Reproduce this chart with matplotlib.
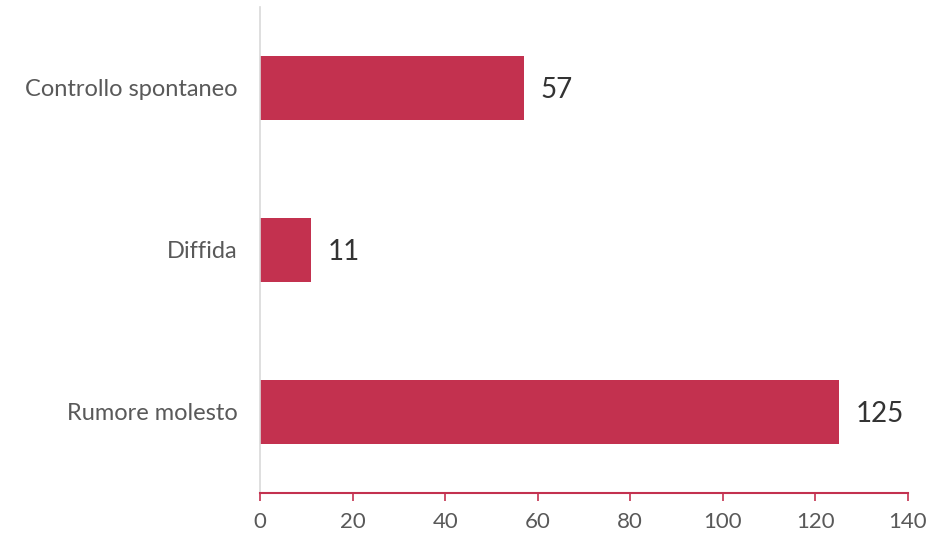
import matplotlib
matplotlib.use("Agg")
import matplotlib.pyplot as plt

categories = ["Rumore molesto", "Diffida", "Controllo spontaneo"]
values = [125, 11, 57]
xticks = [0, 20, 40, 60, 80, 100, 120, 140]

plt.rcParams['font.family'] = ['Lato', 'DejaVu Sans']

bar_color = "#C3314F"
fig = plt.figure(figsize=(9.3, 5.35), dpi=100)
ax = fig.add_axes([0.2796, 0.0785, 0.6967, 0.9085])

ypos = list(range(len(categories)))
ax.barh(ypos, values, height=0.4, color=bar_color)
for y, v in zip(ypos, values):
    ax.annotate(str(v), xy=(v, y), xytext=(12, 0), textcoords="offset points",
                va="center_baseline", ha="left", fontsize=20, color="#333333")

ax.set_ylim(-0.5, 2.5)
ax.set_xlim(0, 140)
ax.set_xticks(xticks)
ax.set_yticks(ypos)
ax.set_yticklabels(categories, va="center_baseline")

for s in ["top", "right"]:
    ax.spines[s].set_visible(False)
ax.spines["left"].set_color("#d9d9d9")
ax.spines["left"].set_linewidth(1.2)
ax.spines["bottom"].set_color(bar_color)
ax.spines["bottom"].set_linewidth(1.5)

ax.tick_params(axis="x", colors=bar_color, length=6, width=1.2, labelcolor="#595959", labelsize=16, pad=8)
ax.tick_params(axis="y", length=0, labelcolor="#595959", labelsize=17, pad=16)

fig.savefig("out.png", dpi=100)
